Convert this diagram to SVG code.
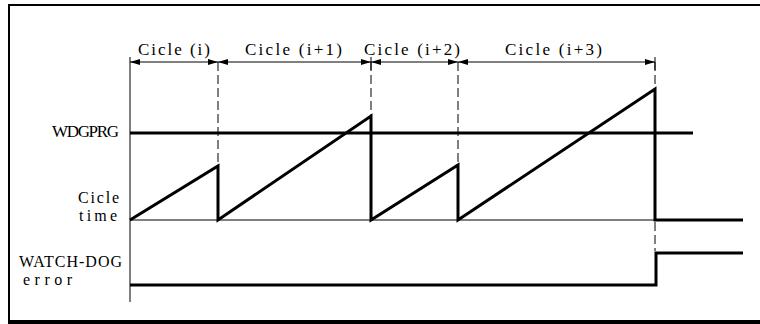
<svg xmlns="http://www.w3.org/2000/svg" width="760" height="324" viewBox="0 0 760 324">
<style>
  .t { font-family: "Liberation Serif", "Times New Roman", serif; font-size: 16px; fill: #000; }
  .big { font-size: 17px; }
  .thin { stroke: #000; stroke-width: 1; fill: none; }
  .dash { stroke: #000; stroke-width: 1; fill: none; stroke-dasharray: 9 4; }
  .thick { stroke: #000; stroke-width: 3; fill: none; stroke-linejoin: miter; }
  .dim { stroke: #000; stroke-width: 1; fill: none; marker-start: url(#arrS); marker-end: url(#arrE); }
</style>
<defs>
  <marker id="arrE" viewBox="0 0 10 6" refX="10" refY="3" markerWidth="10" markerHeight="6" markerUnits="userSpaceOnUse" orient="auto">
    <path d="M0,0 L10,3 L0,6 Z" fill="#000"/>
  </marker>
  <marker id="arrS" viewBox="0 0 10 6" refX="0" refY="3" markerWidth="10" markerHeight="6" markerUnits="userSpaceOnUse" orient="auto">
    <path d="M10,0 L0,3 L10,6 Z" fill="#000"/>
  </marker>
</defs>
<rect width="760" height="324" fill="#fff"/>
<g id="frame">
  <line x1="9" y1="5" x2="760" y2="5" stroke="#000" stroke-width="2"/>
  <line x1="9" y1="4" x2="9" y2="324" stroke="#000" stroke-width="2"/>
  <line x1="8" y1="322" x2="760" y2="322" stroke="#000" stroke-width="4"/>
</g>
<g id="connectors">
  <line class="thin" x1="130" y1="57" x2="130" y2="302"/>
  <line class="thin" x1="371" y1="57" x2="371" y2="70"/>
  <line class="thin" x1="655" y1="57" x2="655" y2="70"/>
  <line class="dash" x1="218" y1="62" x2="218" y2="166"/>
  <line class="dash" x1="371" y1="62" x2="371" y2="116"/>
  <line class="dash" x1="458" y1="62" x2="458" y2="165"/>
  <line class="dash" x1="655" y1="62" x2="655" y2="89"/>
  <line class="dash" x1="655" y1="222" x2="655" y2="251"/>
  <line class="thin" x1="130" y1="220" x2="655" y2="220"/>
  <line class="dim" x1="130" y1="62" x2="218" y2="62"/>
  <line class="dim" x1="218" y1="62" x2="371" y2="62"/>
  <line class="dim" x1="371" y1="62" x2="458" y2="62"/>
  <line class="dim" x1="458" y1="62" x2="655" y2="62"/>
</g>
<g id="cycle-labels">
  <text class="t big" x="138" y="55" textLength="72" lengthAdjust="spacing">Cicle (i)</text>
  <text class="t big" x="245" y="55" textLength="97" lengthAdjust="spacing">Cicle (i+1)</text>
  <text class="t big" x="364" y="55" textLength="96" lengthAdjust="spacing">Cicle (i+2)</text>
  <text class="t big" x="505" y="55" textLength="97" lengthAdjust="spacing">Cicle (i+3)</text>
</g>
<g id="wdgprg">
  <text class="t big" x="52" y="137" textLength="67" lengthAdjust="spacing">WDGPRG</text>
  <line class="thick" x1="130" y1="133" x2="693" y2="133"/>
</g>
<g id="cicle-time">
  <text class="t" x="78" y="203" textLength="41" lengthAdjust="spacing">Cicle</text>
  <text class="t" x="79" y="221" textLength="38" lengthAdjust="spacing">time</text>
  <polyline class="thick" points="130,220 218,166 218,220 371,116 371,220 458,165 458,220 655,89 655,220 743,220"/>
</g>
<g id="watchdog">
  <text class="t" x="19" y="267" textLength="103" lengthAdjust="spacing">WATCH-DOG</text>
  <text class="t" x="23" y="285" textLength="49" lengthAdjust="spacing">error</text>
  <polyline class="thick" points="130,285 656,285 656,253 743,253"/>
</g>
</svg>
